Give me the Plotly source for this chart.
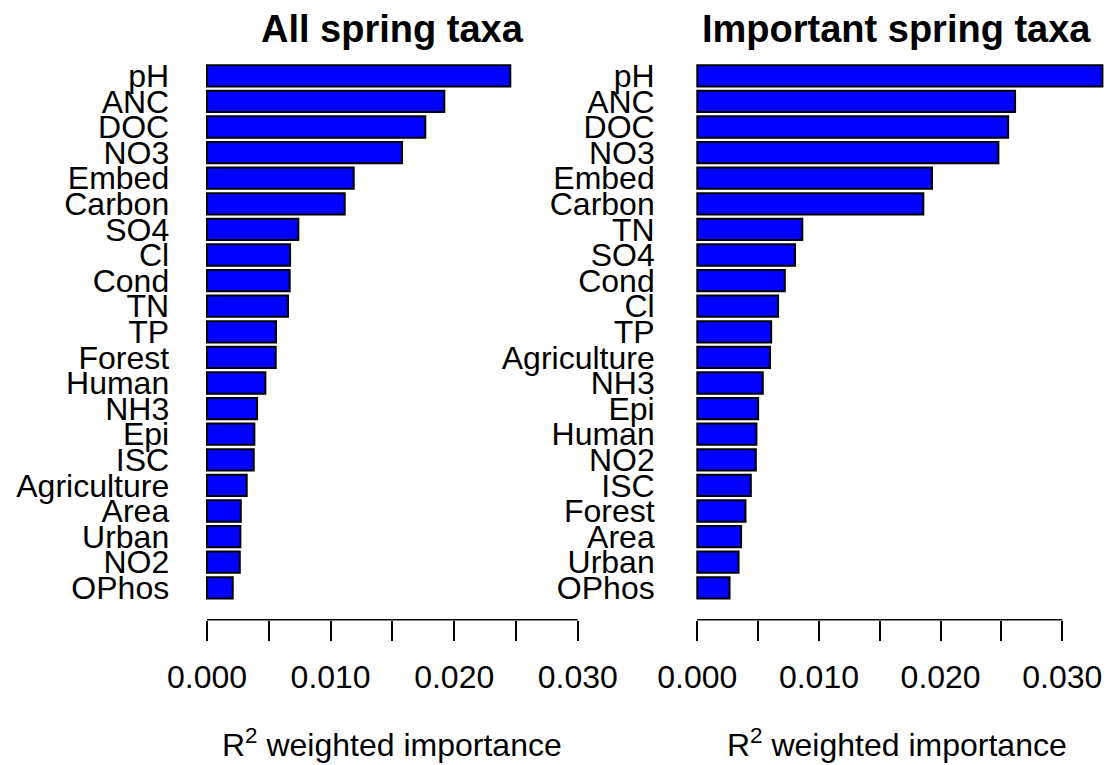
import plotly.graph_objects as go

# Variable importance (R^2 weighted), ordered top to bottom
all_vars = ["pH", "ANC", "DOC", "NO3", "Embed", "Carbon", "SO4", "Cl", "Cond", "TN",
            "TP", "Forest", "Human", "NH3", "Epi", "ISC", "Agriculture", "Area",
            "Urban", "NO2", "OPhos"]
all_vals = [0.02454, 0.01920, 0.01766, 0.01578, 0.01187, 0.01114, 0.00739, 0.00672,
            0.00669, 0.00655, 0.00558, 0.00556, 0.00472, 0.00405, 0.00383, 0.00378,
            0.00321, 0.00273, 0.00270, 0.00265, 0.00208]

imp_vars = ["pH", "ANC", "DOC", "NO3", "Embed", "Carbon", "TN", "SO4", "Cond", "Cl",
            "TP", "Agriculture", "NH3", "Epi", "Human", "NO2", "ISC", "Forest", "Area",
            "Urban", "OPhos"]
imp_vals = [0.03330, 0.02612, 0.02555, 0.02475, 0.01929, 0.01858, 0.00863, 0.00803,
            0.00719, 0.00664, 0.00607, 0.00598, 0.00538, 0.00500, 0.00486, 0.00481,
            0.00440, 0.00396, 0.00360, 0.00339, 0.00265]

panel_titles = ["All spring taxa", "Important spring taxa"]
tick_vals = [0.0, 0.005, 0.010, 0.015, 0.020, 0.025, 0.030]
tick_text = ["0.000", "", "0.010", "", "0.020", "", "0.030"]
axis_label = "R<sup>2</sup> weighted importance"

W, H = 1117, 765
FONT = "Liberation Sans, Arial, sans-serif"

fig = go.Figure()
fig.add_trace(go.Bar(x=all_vals, y=all_vars, orientation="h",
                     marker=dict(color="#0000ff", line=dict(color="black", width=2)),
                     xaxis="x", yaxis="y", showlegend=False))
fig.add_trace(go.Bar(x=imp_vals, y=imp_vars, orientation="h",
                     marker=dict(color="#0000ff", line=dict(color="black", width=2)),
                     xaxis="x2", yaxis="y2", showlegend=False))

ydom = [(765 - 619.8) / H, (765 - 43.8) / H]
n = len(all_vars)

xcommon = dict(tickmode="array", tickvals=tick_vals, ticktext=tick_text,
               ticks="outside", ticklen=20, tickwidth=1.5, tickcolor="black",
               showline=False, showgrid=False, zeroline=False, automargin=False,
               tickfont=dict(family=FONT, size=32, color="black"),
               ticklabelstandoff=9, fixedrange=True)
ycommon = dict(type="category", range=[n - 1 + 1.25, -1.25], showline=False,
               showgrid=False, zeroline=False, ticks="", automargin=False,
               tickfont=dict(family=FONT, size=32, color="black"), fixedrange=True)

fig.update_layout(
    width=W, height=H,
    margin=dict(l=0, r=0, t=0, b=0, autoexpand=False),
    paper_bgcolor="white", plot_bgcolor="white",
    bargap=0.1667,
    xaxis=dict(domain=[192.2 / W, 592.6 / W], range=[-0.0012, 0.0312], anchor="y", **xcommon),
    yaxis=dict(domain=ydom, anchor="x", tickmode="array", tickvals=all_vars,
               ticktext=all_vars, ticklabelstandoff=22, **ycommon),
    xaxis2=dict(domain=[682.7 / W, 1110.7 / W], range=[-0.0012, 0.03398], anchor="y2", **xcommon),
    yaxis2=dict(domain=ydom, anchor="x2", tickmode="array", tickvals=imp_vars,
                ticktext=imp_vars, ticklabelstandoff=27, **ycommon),
)

# Axis lines spanning only the labelled tick range
for xr in ["x", "x2"]:
    fig.add_shape(type="line", xref=xr, yref=("y domain" if xr == "x" else "y2 domain"),
                  x0=0, x1=0.03, y0=0, y1=0, line=dict(color="black", width=1.5))

# Panel titles and axis labels
for xr, title in zip(["x domain", "x2 domain"], panel_titles):
    fig.add_annotation(text="<b>" + title + "</b>", xref=xr, yref="paper",
                       x=0.5, y=(H - 29) / H, xanchor="center", yanchor="middle",
                       showarrow=False, font=dict(family=FONT, size=38, color="black"))
    fig.add_annotation(text=axis_label, xref=xr, yref="paper",
                       x=0.5, y=(H - 743) / H, xanchor="center", yanchor="middle",
                       showarrow=False, font=dict(family=FONT, size=32, color="black"))

fig.write_html("out.html")
